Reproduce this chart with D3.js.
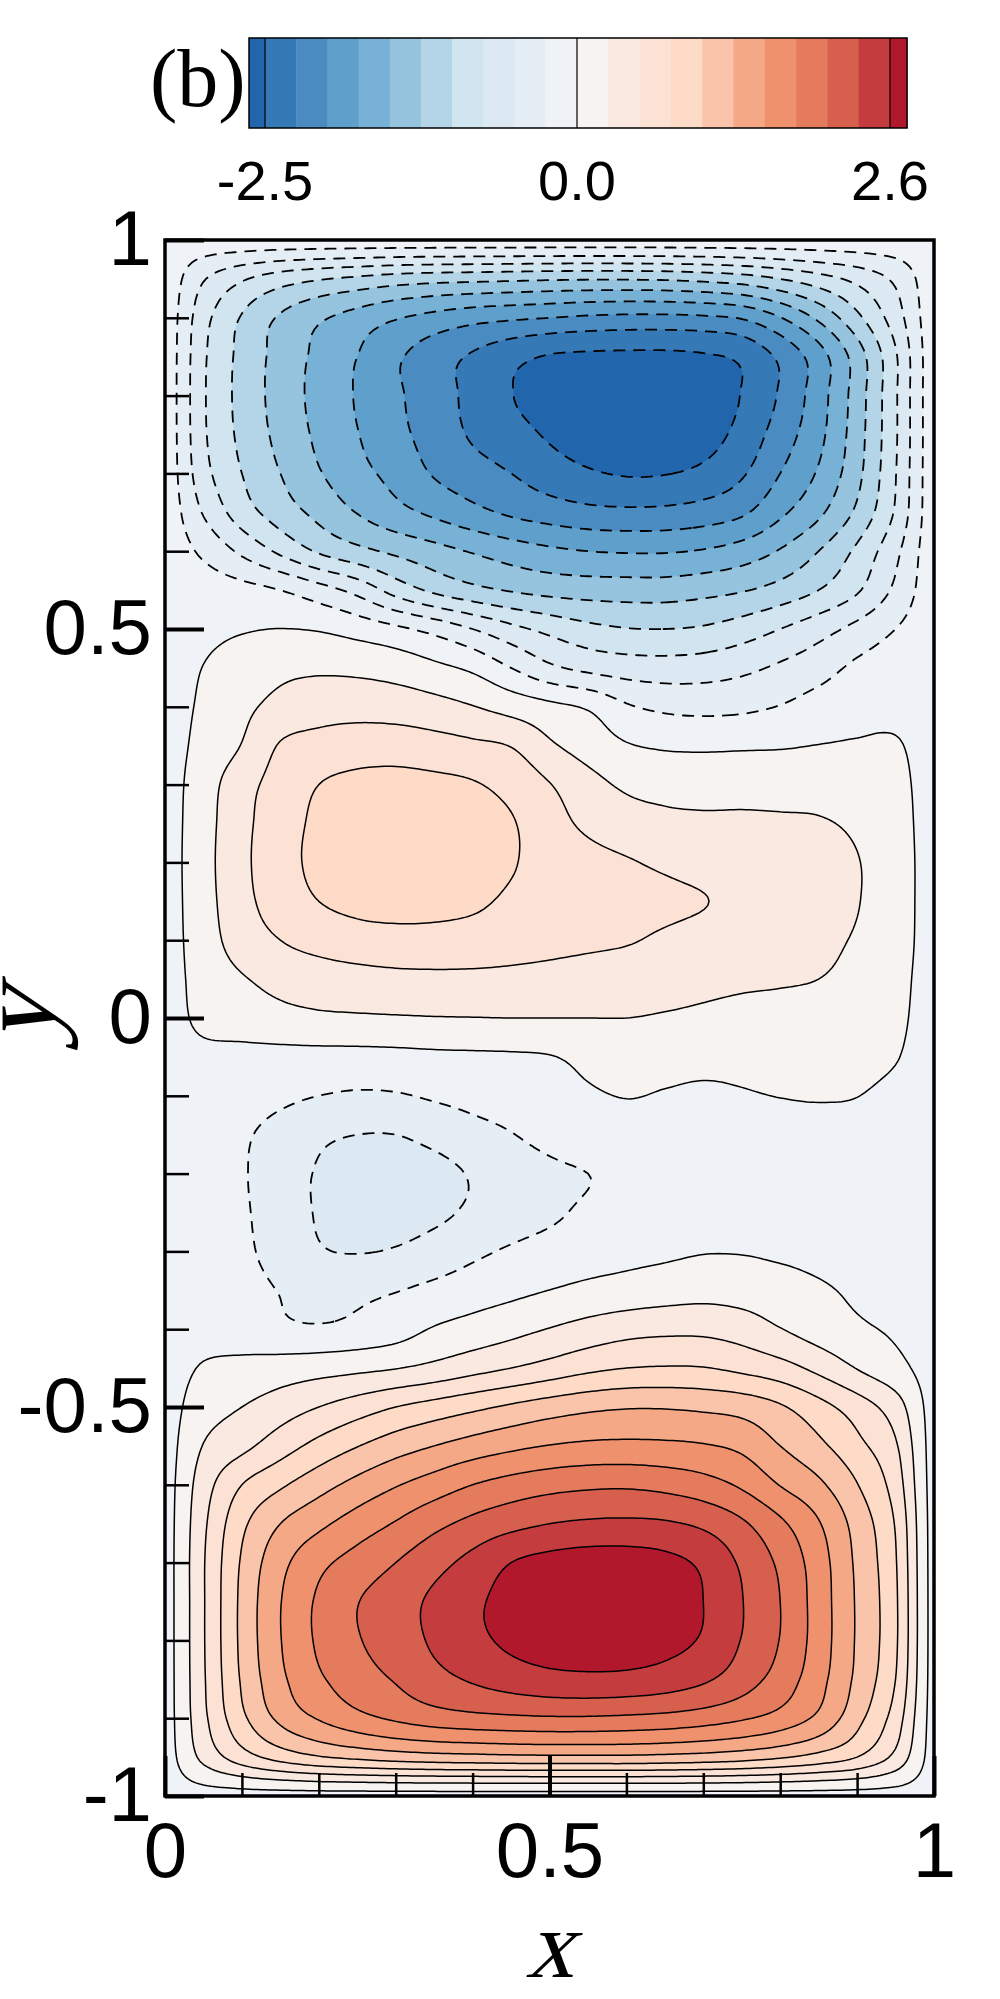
<!DOCTYPE html>
<html>
<head>
<meta charset="utf-8">
<title>Stream function contours (b)</title>
<script src="https://d3js.org/d3.v7.min.js"></script>
<style>
  body { margin: 0; background: #fff; }
  svg { display: block; }
  .axis text { font-family: "Liberation Sans", Arial, sans-serif; font-size: 78px; fill: #000; }
  .axis path { display: none; }
  .cb-label { font-family: "Liberation Sans", Arial, sans-serif; font-size: 56px; text-anchor: middle; }
  .axis-title { font-family: "Liberation Serif", "Times New Roman", serif; font-size: 96px; text-anchor: middle; }
  .panel-label { font-family: "Liberation Serif", "Times New Roman", serif; font-size: 82px; }
</style>
</head>
<body>
<svg width="1000" height="1999"></svg>
<script>
// contour levels: dashed below zero (step 0.25), solid from zero up (step 0.26)
const negLevels = [-2.5, -2.25, -2, -1.75, -1.5, -1.25, -1, -0.75, -0.5, -0.25];
const posLevels = [0, 0.26, 0.52, 0.78, 1.04, 1.3, 1.56, 1.82, 2.08, 2.34, 2.6];
// one colour per band, lowest band first
const bandColors = ["#2166ac", "#3579b6", "#4a8bc2", "#5f9fcb", "#77b1d5", "#96c4de",
  "#b3d5e7", "#d1e5f0", "#dce9f2", "#e6eef5", "#eff3f7",
  "#f7f3f1", "#f9e9e1", "#fce2d5", "#fddbc7", "#f9c4a9", "#f4a886",
  "#f0916d", "#e57b5d", "#d6604d", "#c43c3e", "#b2182b"];
const cbTicks = [-2.5, 0, 2.6];
const cbTickLabels = ["-2.5", "0.0", "2.6"];
const xTicks = [0, 0.5, 1];
const xMinorTicks = [0.1, 0.2, 0.3, 0.4, 0.6, 0.7, 0.8, 0.9];
const yTicks = [-1, -0.5, 0, 0.5, 1];
const yMinorTicks = [-0.9, -0.8, -0.7, -0.6, -0.4, -0.3, -0.2, -0.1, 0.1, 0.2, 0.3, 0.4, 0.6, 0.7, 0.8, 0.9];

// sample grid of the field
const xGrid = [0, 0.05, 0.1, 0.15, 0.2, 0.25, 0.3, 0.35, 0.4, 0.45, 0.5, 0.55, 0.6, 0.65, 0.7, 0.75, 0.8, 0.85, 0.9, 0.95, 1];
const yGrid = [1, 0.95, 0.9, 0.85, 0.8, 0.75, 0.7, 0.65, 0.6, 0.55, 0.5, 0.45, 0.4, 0.35, 0.3, 0.25, 0.2, 0.15, 0.1, 0.05, 0,
  -0.05, -0.1, -0.15, -0.2, -0.25, -0.3, -0.35, -0.4, -0.45, -0.5, -0.55, -0.6, -0.65, -0.7, -0.75, -0.8, -0.85, -0.9, -0.95, -1];
const psi = [
  [-0.1, -0.1, -0.1, -0.1, -0.1, -0.1, -0.1, -0.1, -0.1, -0.1, -0.1, -0.1, -0.1, -0.1, -0.1, -0.1, -0.1, -0.1, -0.1, -0.1, -0.1],
  [-0.1, -0.48, -0.72, -0.88, -0.98, -1.05, -1.12, -1.16, -1.18, -1.2, -1.22, -1.23, -1.23, -1.22, -1.18, -1.12, -1.0, -0.85, -0.68, -0.45, -0.1],
  [-0.1, -0.66, -1.02, -1.28, -1.46, -1.6, -1.73, -1.83, -1.91, -1.96, -2.0, -2.04, -2.06, -2.06, -2.04, -1.98, -1.76, -1.45, -1.06, -0.62, -0.1],
  [-0.1, -0.71, -1.07, -1.34, -1.56, -1.75, -1.96, -2.13, -2.28, -2.42, -2.52, -2.55, -2.56, -2.56, -2.53, -2.45, -2.2, -1.86, -1.38, -0.78, -0.1],
  [-0.1, -0.72, -1.08, -1.35, -1.58, -1.77, -1.96, -2.13, -2.32, -2.49, -2.62, -2.7, -2.74, -2.72, -2.64, -2.49, -2.22, -1.86, -1.38, -0.78, -0.1],
  [-0.1, -0.71, -1.06, -1.32, -1.55, -1.74, -1.93, -2.1, -2.28, -2.4, -2.53, -2.62, -2.67, -2.66, -2.6, -2.42, -2.13, -1.82, -1.36, -0.78, -0.1],
  [-0.1, -0.66, -1.0, -1.25, -1.48, -1.67, -1.83, -2.02, -2.14, -2.25, -2.38, -2.47, -2.52, -2.51, -2.44, -2.28, -2.0, -1.72, -1.32, -0.76, -0.1],
  [-0.1, -0.52, -0.88, -1.12, -1.32, -1.51, -1.67, -1.8, -1.93, -2.04, -2.12, -2.18, -2.2, -2.19, -2.14, -2.04, -1.8, -1.55, -1.2, -0.72, -0.1],
  [-0.1, -0.3, -0.55, -0.8, -1.03, -1.18, -1.3, -1.41, -1.52, -1.62, -1.7, -1.75, -1.77, -1.77, -1.73, -1.64, -1.48, -1.25, -0.95, -0.56, -0.1],
  [-0.1, -0.12, -0.17, -0.25, -0.4, -0.58, -0.85, -1.05, -1.18, -1.27, -1.33, -1.36, -1.37, -1.37, -1.33, -1.27, -1.16, -1.0, -0.78, -0.45, -0.1],
  [-0.1, -0.06, -0.02, 0.003, -0.02, -0.1, -0.2, -0.33, -0.5, -0.68, -0.82, -0.93, -0.99, -1.0, -0.97, -0.88, -0.75, -0.6, -0.43, -0.25, -0.1],
  [-0.1, 0.005, 0.12, 0.2, 0.22, 0.2, 0.15, 0.06, -0.05, -0.25, -0.45, -0.56, -0.62, -0.64, -0.62, -0.56, -0.46, -0.35, -0.2, -0.12, -0.1],
  [-0.1, 0.04, 0.2, 0.33, 0.4, 0.42, 0.4, 0.35, 0.27, 0.16, 0.06, -0.03, -0.22, -0.3, -0.32, -0.3, -0.24, -0.15, -0.08, -0.06, -0.1],
  [-0.1, 0.08, 0.27, 0.54, 0.62, 0.66, 0.66, 0.62, 0.57, 0.51, 0.3, 0.15, 0.02, -0.03, -0.04, -0.03, -0.02, 0.005, 0.02, 0.02, -0.1],
  [-0.1, 0.14, 0.42, 0.62, 0.78, 0.84, 0.86, 0.84, 0.8, 0.7, 0.53, 0.35, 0.22, 0.18, 0.17, 0.17, 0.17, 0.16, 0.13, 0.07, -0.1],
  [-0.1, 0.16, 0.45, 0.66, 0.83, 0.89, 0.91, 0.9, 0.87, 0.8, 0.62, 0.47, 0.37, 0.32, 0.3, 0.3, 0.29, 0.28, 0.22, 0.1, -0.1],
  [-0.1, 0.17, 0.46, 0.68, 0.84, 0.9, 0.92, 0.91, 0.88, 0.8, 0.68, 0.6, 0.54, 0.48, 0.42, 0.38, 0.36, 0.34, 0.27, 0.12, -0.1],
  [-0.1, 0.16, 0.44, 0.64, 0.78, 0.84, 0.86, 0.85, 0.82, 0.74, 0.66, 0.62, 0.59, 0.57, 0.53, 0.45, 0.39, 0.35, 0.27, 0.12, -0.1],
  [-0.1, 0.14, 0.38, 0.52, 0.62, 0.68, 0.7, 0.7, 0.68, 0.64, 0.6, 0.57, 0.54, 0.48, 0.42, 0.37, 0.33, 0.3, 0.24, 0.11, -0.1],
  [-0.1, 0.1, 0.24, 0.33, 0.38, 0.42, 0.45, 0.46, 0.46, 0.45, 0.43, 0.4, 0.37, 0.34, 0.31, 0.29, 0.28, 0.26, 0.2, 0.08, -0.1],
  [-0.1, 0.06, 0.14, 0.19, 0.22, 0.23, 0.24, 0.25, 0.255, 0.26, 0.26, 0.26, 0.26, 0.24, 0.22, 0.2, 0.18, 0.16, 0.12, 0.05, -0.1],
  [-0.1, -0.06, -0.08, -0.08, -0.08, -0.08, -0.07, -0.05, -0.04, -0.03, -0.01, 0.05, 0.06, 0.06, 0.05, 0.05, 0.06, 0.06, 0.05, 0.01, -0.1],
  [-0.1, -0.1, -0.15, -0.2, -0.25, -0.28, -0.27, -0.22, -0.17, -0.12, -0.06, -0.02, 0.005, -0.01, -0.02, -0.01, 0.003, 0.01, 0.002, -0.04, -0.1],
  [-0.1, -0.15, -0.22, -0.33, -0.45, -0.5, -0.5, -0.43, -0.34, -0.26, -0.17, -0.1, -0.07, -0.06, -0.05, -0.05, -0.05, -0.05, -0.05, -0.07, -0.1],
  [-0.1, -0.15, -0.23, -0.38, -0.52, -0.6, -0.61, -0.57, -0.48, -0.38, -0.3, -0.25, -0.19, -0.14, -0.11, -0.09, -0.08, -0.08, -0.08, -0.09, -0.1],
  [-0.1, -0.14, -0.22, -0.37, -0.52, -0.59, -0.6, -0.55, -0.46, -0.37, -0.29, -0.21, -0.15, -0.1, -0.07, -0.05, -0.04, -0.04, -0.05, -0.07, -0.1],
  [-0.1, -0.12, -0.2, -0.35, -0.48, -0.51, -0.48, -0.4, -0.3, -0.22, -0.16, -0.11, -0.07, -0.04, -0.01, -0.01, -0.03, -0.05, -0.06, -0.08, -0.1],
  [-0.1, -0.1, -0.16, -0.26, -0.34, -0.3, -0.26, -0.19, -0.12, -0.06, 0.002, 0.06, 0.1, 0.14, 0.17, 0.15, 0.1, 0.03, -0.03, -0.06, -0.1],
  [-0.1, -0.08, -0.12, -0.2, -0.22, -0.18, -0.11, 0.02, 0.1, 0.18, 0.27, 0.36, 0.43, 0.46, 0.46, 0.4, 0.27, 0.14, 0.04, -0.03, -0.1],
  [-0.1, 0.02, 0.07, 0.12, 0.16, 0.2, 0.25, 0.33, 0.43, 0.52, 0.62, 0.72, 0.78, 0.8, 0.79, 0.72, 0.62, 0.45, 0.25, 0.08, -0.1],
  [-0.1, 0.14, 0.26, 0.39, 0.52, 0.65, 0.78, 0.88, 0.98, 1.08, 1.17, 1.24, 1.28, 1.28, 1.25, 1.2, 1.07, 0.87, 0.65, 0.38, -0.1],
  [-0.1, 0.27, 0.45, 0.66, 0.86, 1.03, 1.18, 1.3, 1.41, 1.5, 1.57, 1.61, 1.62, 1.61, 1.58, 1.5, 1.3, 1.1, 0.85, 0.55, -0.1],
  [-0.1, 0.4, 0.78, 1.0, 1.2, 1.38, 1.54, 1.68, 1.82, 1.92, 1.99, 2.03, 2.04, 2.0, 1.92, 1.78, 1.55, 1.35, 1.05, 0.66, -0.1],
  [-0.1, 0.47, 0.98, 1.3, 1.5, 1.68, 1.84, 2.01, 2.15, 2.26, 2.34, 2.38, 2.39, 2.37, 2.29, 2.12, 1.87, 1.58, 1.2, 0.76, -0.1],
  [-0.1, 0.5, 1.07, 1.48, 1.75, 1.92, 2.08, 2.25, 2.42, 2.6, 2.68, 2.72, 2.72, 2.67, 2.55, 2.3, 2.03, 1.68, 1.25, 0.8, -0.1],
  [-0.1, 0.5, 1.1, 1.55, 1.86, 2.07, 2.22, 2.39, 2.55, 2.68, 2.76, 2.8, 2.8, 2.74, 2.6, 2.35, 2.08, 1.7, 1.27, 0.82, -0.1],
  [-0.1, 0.5, 1.1, 1.55, 1.86, 2.06, 2.2, 2.38, 2.53, 2.65, 2.72, 2.74, 2.73, 2.68, 2.57, 2.33, 2.07, 1.7, 1.27, 0.82, -0.1],
  [-0.1, 0.49, 1.07, 1.5, 1.78, 1.96, 2.1, 2.25, 2.37, 2.46, 2.52, 2.54, 2.53, 2.48, 2.38, 2.2, 1.97, 1.65, 1.24, 0.78, -0.1],
  [-0.1, 0.46, 0.98, 1.36, 1.58, 1.74, 1.86, 1.95, 2.0, 2.03, 2.05, 2.05, 2.03, 2.0, 1.94, 1.85, 1.72, 1.5, 1.12, 0.66, -0.1],
  [-0.1, 0.33, 0.66, 0.88, 1.02, 1.1, 1.16, 1.2, 1.22, 1.24, 1.25, 1.25, 1.25, 1.23, 1.2, 1.15, 1.07, 0.95, 0.78, 0.45, -0.1],
  [-0.1, -0.1, -0.1, -0.1, -0.1, -0.1, -0.1, -0.1, -0.1, -0.1, -0.1, -0.1, -0.1, -0.1, -0.1, -0.1, -0.1, -0.1, -0.1, -0.1, -0.1]
];

const levels = negLevels.concat(posLevels);

// plot area
const plot = {left: 165, right: 934, top: 240, bottom: 1796};
const x = d3.scaleLinear().domain([0, 1]).range([plot.left, plot.right]);
const y = d3.scaleLinear().domain([-1, 1]).range([plot.bottom, plot.top]);

const svg = d3.select("svg");

// refine the sampled field (Catmull-Rom) so the contour lines come out smooth
const nx = xGrid.length, ny = yGrid.length, up = 10;
const NX = (nx - 1) * up + 1, NY = (ny - 1) * up + 1;
function cubic(p0, p1, p2, p3, t) {
  return p1 + 0.5 * t * (p2 - p0 + t * (2 * p0 - 5 * p1 + 4 * p2 - p3 + t * (3 * (p1 - p2) + p3 - p0)));
}
const clampIdx = (k, n) => Math.max(0, Math.min(n - 1, k));
const rowsFine = psi.map(row => {
  const out = new Float64Array(NX);
  for (let I = 0; I < NX; I++) {
    const u = I / up, i = Math.min(Math.floor(u), nx - 2), t = u - i;
    out[I] = cubic(row[clampIdx(i - 1, nx)], row[i], row[i + 1], row[clampIdx(i + 2, nx)], t);
  }
  return out;
});
const values = new Float64Array(NX * NY);
for (let J = 0; J < NY; J++) {
  const v = J / up, j = Math.min(Math.floor(v), ny - 2), t = v - j;
  const r0 = rowsFine[clampIdx(j - 1, ny)], r1 = rowsFine[j], r2 = rowsFine[j + 1], r3 = rowsFine[clampIdx(j + 2, ny)];
  for (let I = 0; I < NX; I++) values[J * NX + I] = cubic(r0[I], r1[I], r2[I], r3[I], t);
}

const contours = d3.contours().size([NX, NY]).thresholds(levels)(values);

// contour grid coords -> data -> pixels
const gx = d3.scaleLinear().domain([0.5, NX - 0.5]).range([xGrid[0], xGrid[nx - 1]]);
const gy = d3.scaleLinear().domain([0.5, NY - 0.5]).range([yGrid[0], yGrid[ny - 1]]);
const path = d3.geoPath(d3.geoTransform({
  point(px, py) { this.stream.point(x(gx(px)), y(gy(py))); }
}));

svg.append("clipPath").attr("id", "clip")
  .append("rect")
  .attr("x", plot.left).attr("y", plot.top)
  .attr("width", plot.right - plot.left).attr("height", plot.bottom - plot.top);

const field = svg.append("g").attr("clip-path", "url(#clip)");

// filled bands
field.append("rect")
  .attr("x", plot.left).attr("y", plot.top)
  .attr("width", plot.right - plot.left).attr("height", plot.bottom - plot.top)
  .attr("fill", bandColors[0]);

field.selectAll(".band")
  .data(contours)
  .enter().append("path")
  .attr("class", "band")
  .attr("d", path)
  .attr("fill", (d, i) => bandColors[i + 1]);

// contour lines
field.selectAll(".cline")
  .data(contours)
  .enter().append("path")
  .attr("class", "cline")
  .attr("d", path)
  .attr("fill", "none")
  .attr("stroke", "#000")
  .attr("stroke-linejoin", "round")
  .attr("stroke-width", d => d.value < 0 ? 1.8 : 1.5)
  .attr("stroke-dasharray", d => d.value < 0 ? "12,8" : null);

// minor ticks
svg.append("g")
  .attr("class", "axis")
  .attr("transform", `translate(${plot.left},0)`)
  .call(d3.axisLeft(y).tickValues(yMinorTicks).tickSize(-24).tickFormat(""))
  .selectAll("line").attr("stroke-width", 2.5);

svg.append("g")
  .attr("class", "axis")
  .attr("transform", `translate(0,${plot.bottom})`)
  .call(d3.axisBottom(x).tickValues(xMinorTicks).tickSize(-23).tickFormat(""))
  .selectAll("line").attr("stroke-width", 2.5);

// major ticks + labels
const yAxisG = svg.append("g")
  .attr("class", "axis")
  .attr("transform", `translate(${plot.left},0)`)
  .call(d3.axisLeft(y).tickValues(yTicks).tickSize(-39).tickPadding(13).tickFormat(d => String(d)));
yAxisG.selectAll("line").attr("stroke-width", 4);

const xAxisG = svg.append("g")
  .attr("class", "axis")
  .attr("transform", `translate(0,${plot.bottom})`)
  .call(d3.axisBottom(x).tickValues(xTicks).tickSize(-40).tickPadding(26).tickFormat(d => String(d)));
xAxisG.selectAll("line").attr("stroke-width", 4);

// frame
svg.append("rect")
  .attr("x", plot.left).attr("y", plot.top)
  .attr("width", plot.right - plot.left).attr("height", plot.bottom - plot.top)
  .attr("fill", "none")
  .attr("stroke", "#000")
  .attr("stroke-width", 3.5);

// axis titles (serif, slanted)
svg.append("text")
  .attr("class", "axis-title")
  .attr("transform", `translate(${x(0.5)},1977) skewX(-16)`)
  .text("x");

svg.append("text")
  .attr("class", "axis-title")
  .style("font-size", "112px")
  .attr("transform", `translate(54,${y(0)}) rotate(-90) skewX(-16)`)
  .text("y");

// colour bar
const cb = {left: 249, right: 907, top: 38, bottom: 128};
const cbX = d3.scaleLinear().domain([-2.5, 0, 2.6]).range([265, 577, 890]);
const cbEdges = [cb.left].concat(levels.map(cbX), [cb.right]);

const cbG = svg.append("g");
cbG.selectAll("rect")
  .data(bandColors)
  .enter().append("rect")
  .attr("x", (d, i) => cbEdges[i])
  .attr("y", cb.top)
  .attr("width", (d, i) => cbEdges[i + 1] - cbEdges[i] + 0.5)
  .attr("height", cb.bottom - cb.top)
  .attr("fill", d => d);

cbG.selectAll("line")
  .data(cbTicks)
  .enter().append("line")
  .attr("x1", d => cbX(d)).attr("x2", d => cbX(d))
  .attr("y1", cb.top).attr("y2", cb.bottom)
  .attr("stroke", "#000")
  .attr("stroke-width", 1.2);

cbG.append("rect")
  .attr("x", cb.left).attr("y", cb.top)
  .attr("width", cb.right - cb.left).attr("height", cb.bottom - cb.top)
  .attr("fill", "none")
  .attr("stroke", "#000")
  .attr("stroke-width", 1.5);

cbG.selectAll(".cb-label")
  .data(cbTicks)
  .enter().append("text")
  .attr("class", "cb-label")
  .attr("x", d => cbX(d))
  .attr("y", 200)
  .text((d, i) => cbTickLabels[i]);

// panel label
svg.append("text")
  .attr("class", "panel-label")
  .attr("x", 150)
  .attr("y", 106)
  .text("(b)");
</script>
</body>
</html>
